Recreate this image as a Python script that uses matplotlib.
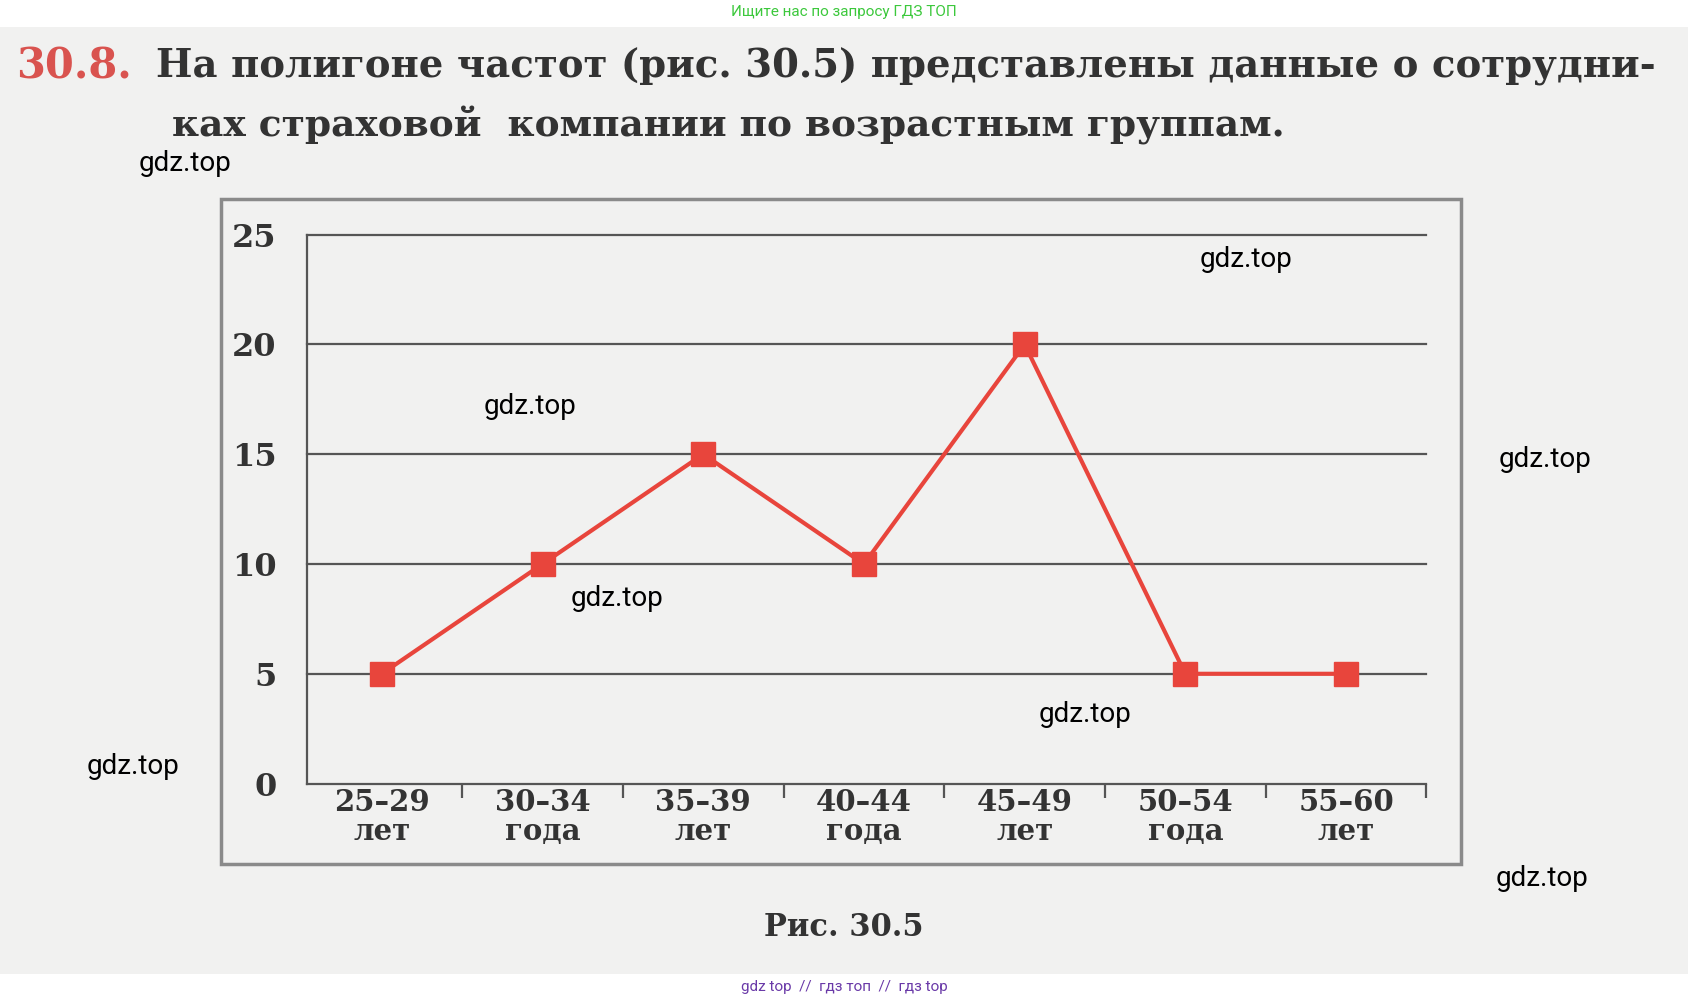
import matplotlib
matplotlib.use("Agg")
import matplotlib.pyplot as plt
from matplotlib.patches import Rectangle

categories = ["25–29\nлет", "30–34\nгода", "35–39\nлет", "40–44\nгода", "45–49\nлет", "50–54\nгода", "55–60\nлет"]
values = [5, 10, 15, 10, 20, 5, 5]
yticks = [0, 5, 10, 15, 20, 25]

W, H = 1568, 930
def fx(x): return x / W
def fy(y): return 1 - y / H

fig = plt.figure(figsize=(16.88, 10.01), dpi=100)
fig.patch.set_facecolor("white")
fig.patches.append(Rectangle((0, fy(905)), 1, fy(25) - fy(905), transform=fig.transFigure,
                             facecolor="#f1f1f0", edgecolor="none", zorder=-5))
fig.text(0.5, fy(11), "Ищите нас по запросу ГДЗ ТОП", color="#3cc83c", fontsize=11,
         ha="center", va="center", family="Roboto")
fig.text(0.5, fy(917), "gdz top  //  гдз топ  //  гдз top", color="#6a3aa8", fontsize=11,
         ha="center", va="center", family="Roboto")

fig.text(fx(15), fy(62), "30.8.", color="#d9534f", fontsize=30, fontweight="bold",
         family="DejaVu Serif", va="center")
fig.text(fx(145), fy(62), "На полигоне частот (рис. 30.5) представлены данные о сотрудни-",
         color="#333333", fontsize=27.8, fontweight="bold", family="DejaVu Serif", va="center")
fig.text(fx(160), fy(117), "ках страховой  компании по возрастным группам.",
         color="#333333", fontsize=27, fontweight="bold", family="DejaVu Serif", va="center")
fig.text(0.5, fy(862), "Рис. 30.5", color="#333333", fontsize=22, fontweight="bold",
         family="DejaVu Serif", ha="center", va="center")

fig.patches.append(Rectangle((fx(205), fy(803)), fx(1357) - fx(205), fy(185) - fy(803),
                             transform=fig.transFigure, facecolor="none",
                             edgecolor="#8a8a8a", linewidth=2.5, zorder=-4))

ax = fig.add_axes([fx(285), fy(728), fx(1325) - fx(285), fy(218) - fy(728)])
ax.set_zorder(5)
ax.set_facecolor("none")
x = list(range(len(categories)))
ax.set_xlim(-70 / 150, len(categories) - 1 + 70 / 150)
ax.set_ylim(0, 25)
for yv in yticks:
    ax.axhline(yv, color="#555555", linewidth=1.6, zorder=1, clip_on=False)
ax.plot(x, values, color="#e8453c", linewidth=3, marker="s", markersize=17,
        markerfacecolor="#e8453c", markeredgecolor="#e8453c", zorder=3, clip_on=False)
for s in ["top", "right", "bottom"]:
    ax.spines[s].set_visible(False)
ax.spines["left"].set_color("#555555")
ax.spines["left"].set_linewidth(1.6)
ax.set_yticks(yticks)
ax.set_yticklabels([str(v) for v in yticks], fontsize=23, fontweight="bold",
                   family="DejaVu Serif", color="#333333")
ax.tick_params(axis="y", length=0, pad=22)
ax.set_xticks([i + 0.5 for i in x])
ax.set_xticklabels([])
ax.tick_params(axis="x", length=10, width=1.6, color="#555555", direction="out")
for i, c in zip(x, categories):
    ax.text(i, -0.2, c, ha="center", va="top", fontsize=21, fontweight="bold",
            family="DejaVu Serif", color="#333333", linespacing=1.0)

for (px, py) in [(172, 152), (1157, 241), (492, 378), (1435, 427), (573, 556),
                 (1008, 664), (124, 712), (1432, 816)]:
    fig.text(fx(px), fy(py), "gdz.top", fontsize=20, family="Roboto", color="black",
             ha="center", va="center", zorder=10)

fig.savefig("out.png", dpi=100, facecolor=fig.get_facecolor())
